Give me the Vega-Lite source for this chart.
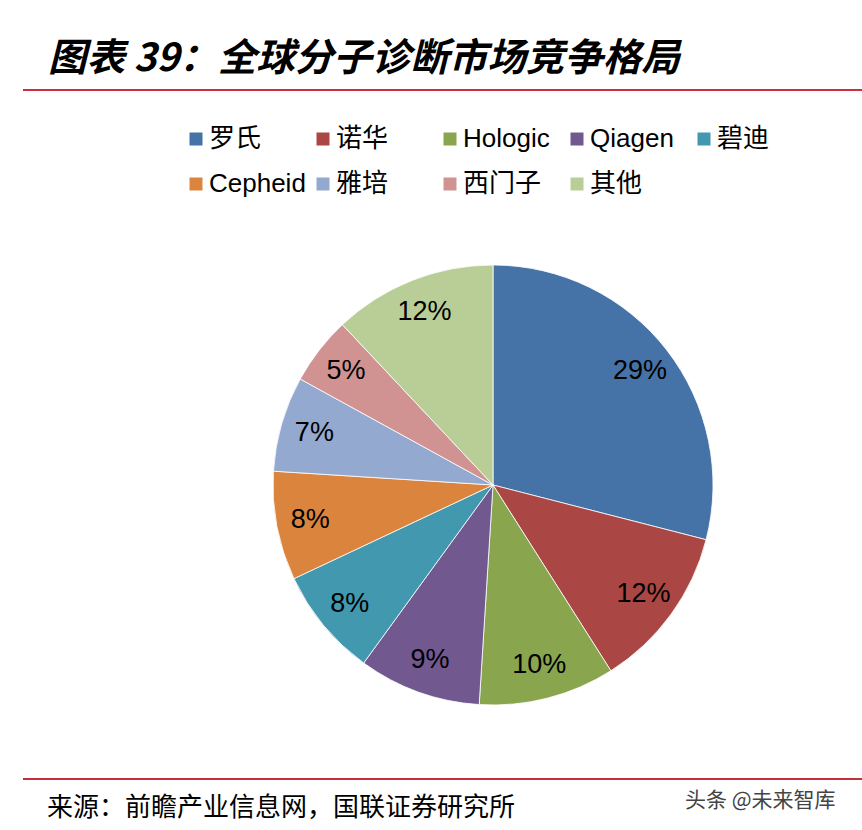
{
  "$schema": "https://vega.github.io/schema/vega-lite/v6.json",
  "width": 440,
  "height": 440,
  "autosize": {"type": "none"},
  "padding": {"left": 273, "top": 265, "right": 149, "bottom": 125},
  "background": "white",
  "config": {"view": {"stroke": null}, "font": "Liberation Sans"},
  "title": {
    "text": "图表 39：全球分子诊断市场竞争格局",
    "anchor": "start",
    "frame": "group",
    "font": "Noto Sans CJK SC",
    "fontSize": 38.5,
    "fontWeight": "bold",
    "fontStyle": "italic",
    "color": "#000000",
    "dx": -225,
    "offset": 10
  },
  "data": {
    "values": [
      {"rank": 1, "company": "罗氏", "share": 0.29},
      {"rank": 2, "company": "诺华", "share": 0.12},
      {"rank": 3, "company": "Hologic", "share": 0.10},
      {"rank": 4, "company": "Qiagen", "share": 0.09},
      {"rank": 5, "company": "碧迪", "share": 0.08},
      {"rank": 6, "company": "Cepheid", "share": 0.08},
      {"rank": 7, "company": "雅培", "share": 0.07},
      {"rank": 8, "company": "西门子", "share": 0.05},
      {"rank": 9, "company": "其他", "share": 0.12}
    ]
  },
  "layer": [
    {
      "mark": {"type": "arc", "outerRadius": 220, "stroke": "#ffffff", "strokeWidth": 0.8},
      "encoding": {
        "theta": {"field": "share", "type": "quantitative", "stack": true},
        "order": {"field": "rank", "type": "quantitative"},
        "color": {
          "field": "company",
          "type": "nominal",
          "sort": null,
          "scale": {
            "domain": ["罗氏", "诺华", "Hologic", "Qiagen", "碧迪", "Cepheid", "雅培", "西门子", "其他"],
            "range": ["#4572A7", "#AA4643", "#89A54E", "#71588F", "#4198AF", "#DB843D", "#93A9CF", "#D19392", "#B9CD96"]
          },
          "legend": {
            "orient": "none",
            "legendX": -90,
            "legendY": -139,
            "direction": "horizontal",
            "columns": 5,
            "gridAlign": "all",
            "title": null,
            "symbolType": "square",
            "symbolSize": 169,
            "symbolStrokeWidth": 0,
            "labelFont": "Liberation Sans, Noto Sans CJK SC",
            "labelFontSize": 26,
            "labelColor": "#000000",
            "labelOffset": 0,
            "labelLimit": 0,
            "rowPadding": 19,
            "columnPadding": 4
          }
        }
      }
    },
    {
      "mark": {"type": "text", "radius": 186, "fontSize": 27, "font": "Liberation Sans", "color": "#000000"},
      "encoding": {
        "theta": {"field": "share", "type": "quantitative", "stack": true},
        "order": {"field": "rank", "type": "quantitative"},
        "text": {"field": "share", "type": "quantitative", "format": ".0%"}
      }
    },
    {
      "data": {"values": [{"line": "top"}]},
      "mark": {"type": "rule", "color": "#cc2f3b", "strokeWidth": 2},
      "encoding": {"x": {"value": -250}, "x2": {"value": 589}, "y": {"value": -175}}
    },
    {
      "data": {"values": [{"line": "bottom"}]},
      "mark": {"type": "rule", "color": "#c42f3b", "strokeWidth": 2},
      "encoding": {"x": {"value": -250}, "x2": {"value": 589}, "y": {"value": 514}}
    },
    {
      "data": {"values": [{"note": "来源：前瞻产业信息网，国联证券研究所"}]},
      "mark": {"type": "text", "align": "left", "baseline": "middle", "font": "Noto Sans CJK SC", "fontSize": 26, "color": "#000000"},
      "encoding": {"text": {"field": "note"}, "x": {"value": -226}, "y": {"value": 543}}
    },
    {
      "data": {"values": [{"note": "头条 @未来智库"}]},
      "mark": {"type": "text", "align": "left", "baseline": "middle", "font": "Noto Sans CJK SC", "fontSize": 21, "color": "#444444"},
      "encoding": {"text": {"field": "note"}, "x": {"value": 412}, "y": {"value": 536}}
    }
  ]
}
